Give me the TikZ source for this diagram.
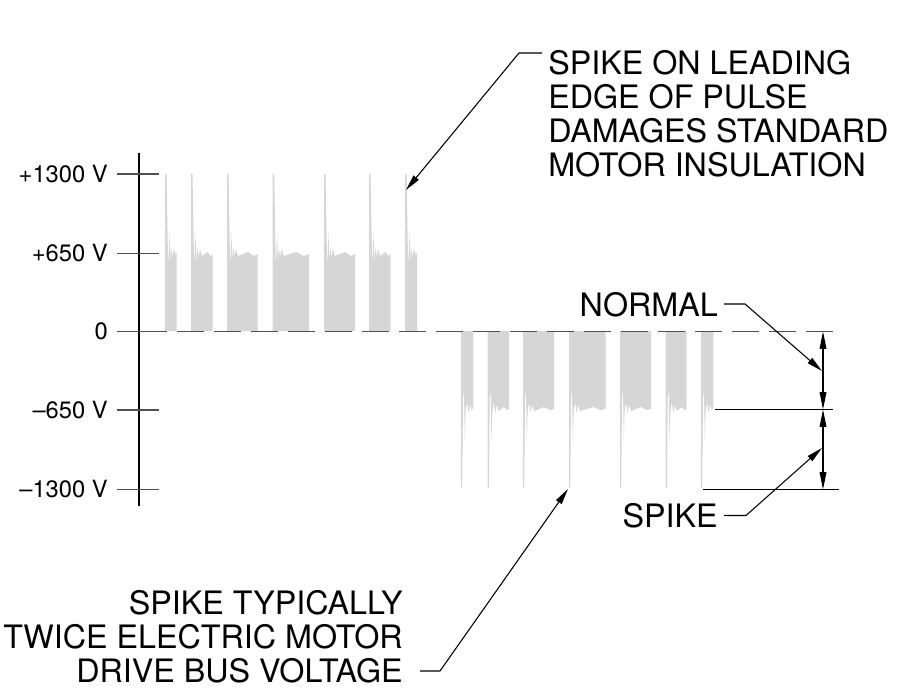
\documentclass[tikz,border=0pt]{standalone}
\usepackage{fontspec}
\setmainfont{TeX Gyre Heros}
\usetikzlibrary{arrows.meta}
\definecolor{wavegray}{RGB}{214,214,214}
\definecolor{tickgray}{RGB}{80,80,80}
\newcommand\pospulse[2]{%
  \fill[wave] (#1,331) -- (#1,174) -- ({#1+1.5},174) -- ({#1+2.6},236) -- ({#1+3.2},268)
    -- ({#1+4.5},232) -- ({#1+5.3},262) -- ({#1+6.2},247) -- ({#1+7.5},257) -- ({#1+9},249)
    -- ({#1+11},256) -- ({#1+11+(#2-#1-11)*0.5},252) -- ({#1+11+(#2-#1-11)*0.8},256)
    -- (#2,254) -- (#2,331) -- cycle;}
\newcommand\negpulse[2]{%
  \fill[wave] (#1,331) -- (#1,488) -- ({#1+1.2},488) -- ({#1+2},398) -- ({#1+3},390)
    -- ({#1+3.8},442) -- ({#1+4.6},412) -- ({#1+6},402) -- ({#1+7.5},413) -- ({#1+9},405)
    -- ({#1+11},411) -- ({#1+11+(#2-#1-11)*0.5},407) -- ({#1+11+(#2-#1-11)*0.8},410)
    -- (#2,409) -- (#2,331) -- cycle;}
\begin{document}
\begin{tikzpicture}[x=0.75pt,y=-0.75pt,
  wave/.style={fill=wavegray},
  tickline/.style={draw=tickgray,line width=1.1pt},
  zeroline/.style={draw=tickgray,line width=1.1pt,dash pattern=on 20.25pt off 7.5pt},
  axisline/.style={draw=black,line width=0.8pt},
  extline/.style={draw=black,line width=0.8pt},
  dimarrow/.style={draw=black,line width=0.8pt,{Triangle[length=13pt,width=5pt]}-{Triangle[length=13pt,width=5pt]}},
  leader/.style={draw=black,line width=0.8pt,-{Triangle[length=12pt,width=5pt]}},
  biglbl/.style={inner sep=0pt,font=\fontsize{24.2}{25.4}\selectfont},
  axlbl/.style={inner sep=0pt,anchor=east,font=\fontsize{17.8}{20}\selectfont}]
\useasboundingbox (0,0) rectangle (906,696);
% waveform
\foreach \a/\b in {165/176.7,191/212.7,227/257.7,272.7/309,324/355,369/390.7,405/417}
  {\pospulse{\a}{\b}}
\foreach \a/\b in {461/473.3,487.7/509,523/554,569/605.7,620/651,665.7/686.7,701/713.3}
  {\negpulse{\a}{\b}}
% axis
\coordinate (atop) at (139,153);
\coordinate (abot) at (139,506);
\draw[axisline] (atop) -- (abot);
\foreach \y/\n in {174/p1300,253.5/p650,331.5/z,410/m650,489.5/m1300}{
  \coordinate (\n L) at (117,\y);
  \coordinate (\n R) at (159,\y);
  \draw[tickline] (\n L) -- (\n R);
}
\node[axlbl] (lp1300) at (108,174) {+1300 V};
\node[axlbl] (lp650) at (108,253.5) {+650 V};
\node[axlbl] (lz) at (108,331.5) {0};
\node[axlbl] (lm650) at (108,410) {\textendash650 V};
\node[axlbl] (lm1300) at (108,489.5) {\textendash1300 V};
% zero line
\coordinate (z0) at (140,331.5);
\coordinate (z1) at (838,331.5);
\draw[zeroline] (z0) -- (z1);
% extension lines
\coordinate (e1a) at (715,409.5);
\coordinate (e1b) at (833,409.5);
\coordinate (e2a) at (703,489.5);
\coordinate (e2b) at (839,489.5);
\draw[extline] (e1a) -- (e1b);
\draw[extline] (e2a) -- (e2b);
% dimension arrows
\coordinate (d0) at (823,331.5);
\coordinate (d1) at (823,409.5);
\coordinate (d2) at (823,489.5);
\draw[dimarrow] (d0) -- (d1);
\draw[dimarrow] (d1) -- (d2);
% labels
\node[biglbl,anchor=north west,align=left] (topnote) at (548,50.5)
  {SPIKE ON LEADING\\EDGE OF PULSE\\DAMAGES STANDARD\\MOTOR INSULATION};
\node[biglbl,anchor=north east,align=right] (botnote) at (403,590.5)
  {SPIKE TYPICALLY\\TWICE ELECTRIC MOTOR\\DRIVE BUS VOLTAGE};
\node[biglbl,anchor=base east] (normal) at (718,316) {NORMAL};
\node[biglbl,anchor=base east] (spike) at (718,527.7) {SPIKE};
% leaders
\coordinate (t0) at (542,53);
\coordinate (t1) at (519,53);
\coordinate (t2) at (406,190);
\draw[leader] (t0) -- (t1) -- (t2);
\coordinate (b0) at (420,671);
\coordinate (b1) at (440,671);
\coordinate (b2) at (568,489);
\draw[leader] (b0) -- (b1) -- (b2);
\coordinate (n0) at (724,304);
\coordinate (n1) at (745,304);
\coordinate (n2) at (822,371);
\draw[leader] (n0) -- (n1) -- (n2);
\coordinate (s0) at (724,515.5);
\coordinate (s1) at (746,515.5);
\coordinate (s2) at (822,448);
\draw[leader] (s0) -- (s1) -- (s2);
\end{tikzpicture}
\end{document}
